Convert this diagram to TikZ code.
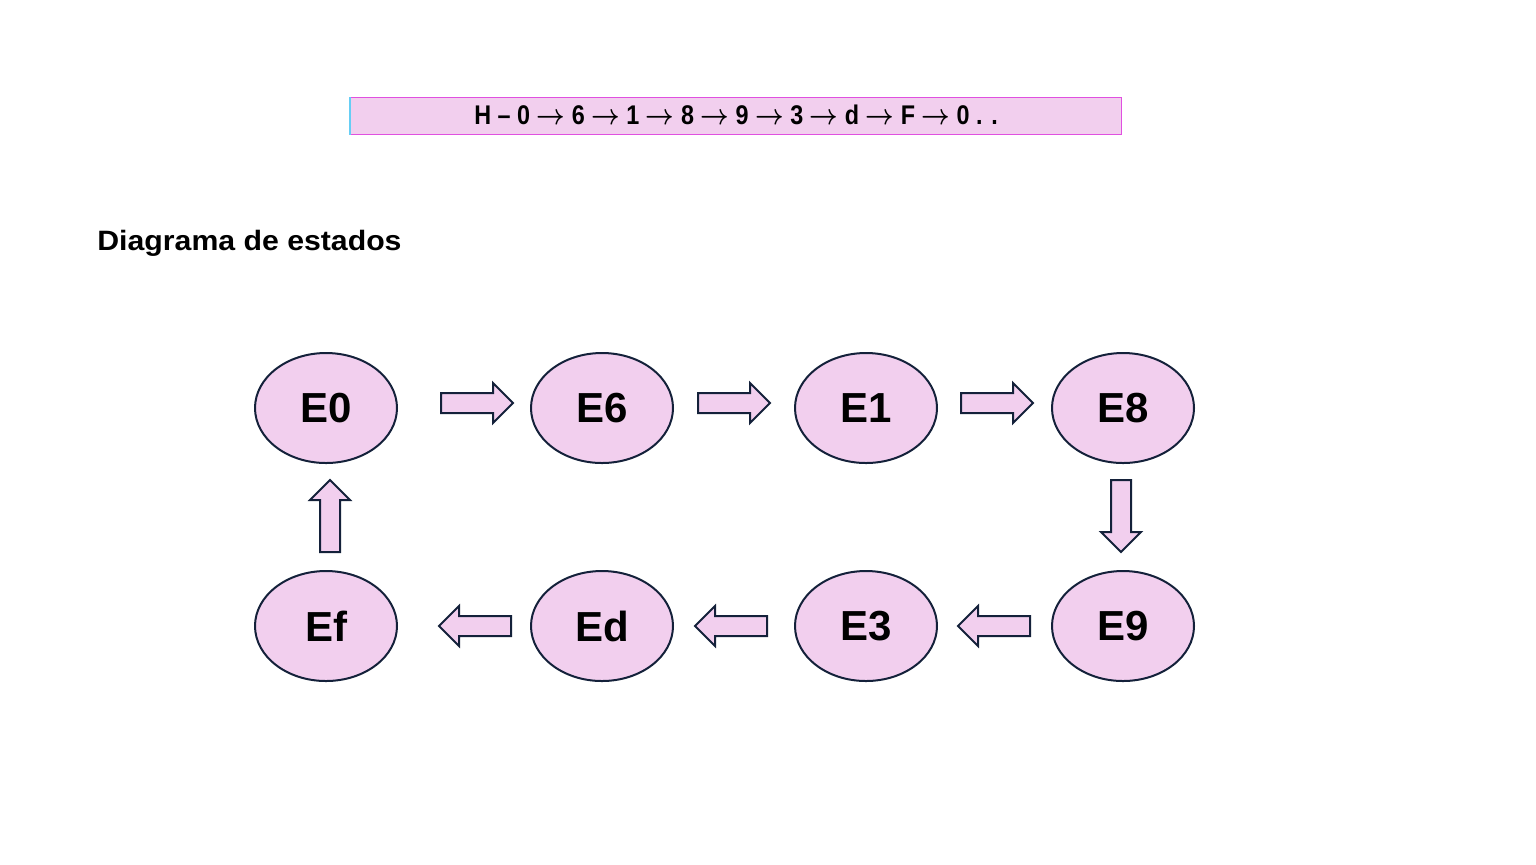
\documentclass[tikz,border=0pt]{standalone}
\usepackage{amsmath,bm}
\usepackage{fontspec}
\setmainfont{Liberation Sans}
\usetikzlibrary{shapes.geometric,calc}
\definecolor{pinkfill}{HTML}{F2CFEE}
\definecolor{navy}{HTML}{14213A}
\definecolor{boxedge}{HTML}{E050E0}
\newcommand{\ar}{~$\boldsymbol{\rightarrow}$~}
\tikzset{
  state/.style={ellipse,draw=navy,line width=1pt,fill=pinkfill,minimum width=71pt,minimum height=55pt,inner sep=0pt,font=\fontsize{21}{21}\selectfont\bfseries},
  blockarrow/.pic={
    \draw[draw=navy,line width=1pt,fill=pinkfill,line join=miter]
      (0,-10) -- (52,-10) -- (52,-20) -- (72,0) -- (52,20) -- (52,10) -- (0,10) -- cycle;
  }
}
\begin{document}
\begin{tikzpicture}[x=0.5pt,y=-0.5pt]
\useasboundingbox (0,0) rectangle (1536,864);
% top box
\node[draw=boxedge,line width=0.6pt,fill=pinkfill,minimum width=385.5pt,minimum height=18.5pt,inner sep=0pt,anchor=north west] (seq) at (350,97)
  {\raisebox{1.5pt}{\fontsize{13.5}{13.5}\selectfont\bfseries\scalebox{0.865}[1]{H – 0\ar6\ar1\ar8\ar9\ar3\ar d\ar F\ar0 . .}}};
\draw[cyan!60,line width=0.6pt] (seq.north west) -- (seq.south west);
% title
\node[anchor=west,font=\fontsize{14}{14}\selectfont\bfseries,inner sep=0pt] (title) at (97,243) {\scalebox{1.08}[1]{Diagrama de estados}};
% states
\node[state] (e0) at (326,408) {E0};
\node[state] (e6) at (602,408) {E6};
\node[state] (e1) at (866,408) {E1};
\node[state] (e8) at (1123,408) {E8};
\node[state] (ef) at (326,626) {Ef};
\node[state] (ed) at (602,626) {Ed};
\node[state] (e3) at (866,626) {E3};
\node[state] (e9) at (1123,626) {E9};
% block arrows
\path ($(e0.east)+(43,-5)$) pic {blockarrow};
\path ($(e6.east)+(24,-5)$) pic {blockarrow};
\path ($(e1.east)+(23,-5)$) pic {blockarrow};
\path ($(e8.south)+(-2,16)$) pic[rotate=-90] {blockarrow};
\path ($(e9.west)+(-21,0)$) pic[rotate=180] {blockarrow};
\path ($(e3.west)+(-27,0)$) pic[rotate=180] {blockarrow};
\path ($(ed.west)+(-19,0)$) pic[rotate=180] {blockarrow};
\path ($(ef.north)+(4,-18)$) pic[rotate=90] {blockarrow};
\end{tikzpicture}
\end{document}
